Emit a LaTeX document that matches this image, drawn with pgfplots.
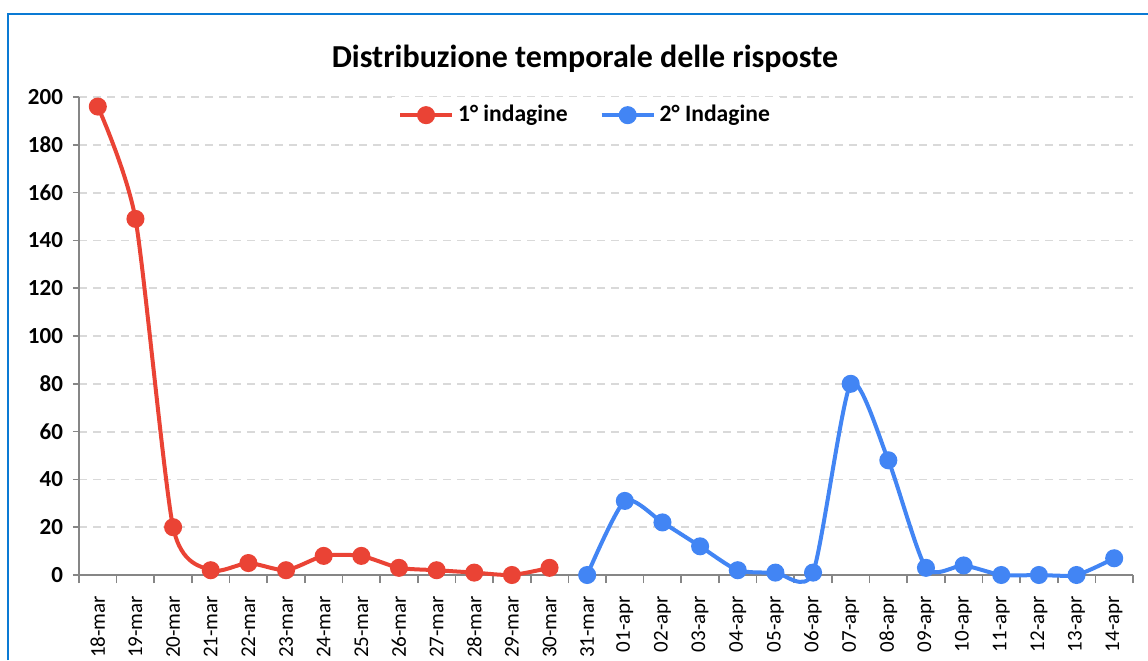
\documentclass[border=0pt]{standalone}
\usepackage{pgfplots}
\pgfplotsset{compat=1.18}
\usepackage{fontspec}
\setmainfont{Carlito}

\definecolor{serieA}{HTML}{EA4335}
\definecolor{serieB}{HTML}{4285F4}
\definecolor{asse}{HTML}{868686}
\definecolor{griglia}{HTML}{D9D9D9}
\definecolor{cornice}{HTML}{0A7AD4}

\pgfplotstableread{
x y
0 196
1 149
2 20
3 2
4 5
5 2
6 8
7 8
8 3
9 2
10 1
11 0
12 3
}\primaindagine

\pgfplotstableread{
x y
13 0
14 31
15 22
16 12
17 2
18 1
19 1
20 80
21 48
22 3
23 4
24 0
25 0
26 0
27 7
}\secondaindagine

\begin{document}
\begin{tikzpicture}
\useasboundingbox (0,0) rectangle (574pt,330pt);
\draw[cornice, line width=1pt] (4pt,0) -- (4pt,323pt) -- (574pt,323pt);
\begin{axis}[
    at={(39.5pt,42.5pt)}, anchor=south west,
    scale only axis,
    width=527pt, height=239pt,
    xmin=-0.5, xmax=27.5,
    ymin=0, ymax=200,
    axis x line=bottom, axis y line=left,
    axis line style={asse, line width=0.8pt, -},
    xtick={0,...,27},
    xticklabels={18-mar,19-mar,20-mar,21-mar,22-mar,23-mar,24-mar,25-mar,26-mar,27-mar,28-mar,29-mar,30-mar,31-mar,01-apr,02-apr,03-apr,04-apr,05-apr,06-apr,07-apr,08-apr,09-apr,10-apr,11-apr,12-apr,13-apr,14-apr},
    major x tick style={draw=none},
    minor xtick={-0.5,0.5,...,27.5},
    minor x tick style={asse, line width=0.8pt},
    minor tick length=4pt,
    tick align=outside,
    ytick={0,20,...,200},
    major y tick style={asse, line width=0.8pt},
    major tick length=3pt,
    ymajorgrids,
    y grid style={griglia, line width=0.9pt, dash pattern=on 4pt off 3pt},
    x tick label style={rotate=90, anchor=east, font=\fontsize{10.5}{12}\selectfont, xshift=-4pt},
    y tick label style={font=\bfseries\fontsize{11.5}{13}\selectfont, xshift=-1.5pt},
    /pgf/number format/assume math mode=true,
    title={Distribuzione temporale delle risposte},
    title style={at={(axis description cs:0.48,1.055)}, anchor=center, font=\bfseries\fontsize{16}{18}\selectfont},
    legend columns=2,
    legend style={at={(axis description cs:0.481,0.962)}, anchor=center, draw=none, fill=white,
        font=\bfseries\fontsize{11.8}{13}\selectfont, /tikz/every even column/.append style={column sep=14pt}},
    legend image code/.code={\draw[mark repeat=2, mark phase=2] plot coordinates {(0pt,0pt) (13pt,0pt) (26pt,0pt)};},
    clip=false,
]
\addplot[serieA, line width=2pt, smooth, tension=0.4, mark=*, mark size=3.5pt] table {\primaindagine};
\addplot[serieB, line width=2pt, smooth, tension=0.4, mark=*, mark size=3.5pt] table {\secondaindagine};
\legend{1° indagine, 2° Indagine}
\end{axis}
\end{tikzpicture}
\end{document}
